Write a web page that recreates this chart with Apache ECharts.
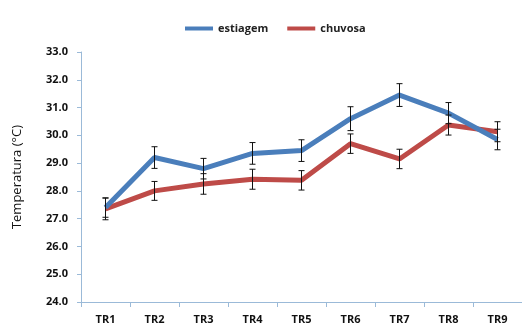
<!DOCTYPE html>
<html><head><meta charset="utf-8">
<script src="https://cdn.jsdelivr.net/npm/echarts@6/dist/echarts.min.js"></script>
<style>html,body{margin:0;padding:0;background:#fff}#c{width:522px;height:325px}</style>
</head><body><div id="c"></div>
<script>
var categories = ['TR1','TR2','TR3','TR4','TR5','TR6','TR7','TR8','TR9'];
var estiagem = [27.4, 29.2, 28.8, 29.35, 29.45, 30.6, 31.45, 30.8, 29.85];
var estiagemErr = [0.35, 0.39, 0.37, 0.39, 0.39, 0.43, 0.41, 0.38, 0.37];
var chuvosa = [27.35, 28.0, 28.25, 28.42, 28.38, 29.7, 29.15, 30.37, 30.13];
var chuvosaErr = [0.39, 0.34, 0.37, 0.36, 0.35, 0.35, 0.35, 0.36, 0.36];
var yTicks = [24, 25, 26, 27, 28, 29, 30, 31, 32, 33];

function errData(vals, errs) {
  return vals.map(function (v, i) { return [i, v - errs[i], v + errs[i]]; });
}
function renderErr(params, api) {
  var i = api.value(0);
  var lo = api.coord([i, api.value(1)]);
  var hi = api.coord([i, api.value(2)]);
  var hw = 3;
  var st = { stroke: '#111', lineWidth: 1 };
  return { type: 'group', children: [
    { type: 'line', shape: { x1: lo[0], y1: lo[1], x2: hi[0], y2: hi[1] }, style: st },
    { type: 'line', shape: { x1: lo[0] - hw, y1: lo[1], x2: lo[0] + hw, y2: lo[1] }, style: st },
    { type: 'line', shape: { x1: hi[0] - hw, y1: hi[1], x2: hi[0] + hw, y2: hi[1] }, style: st }
  ]};
}
var chart = echarts.init(document.getElementById('c'));
chart.setOption({
  animation: false,
  backgroundColor: '#fff',
  legend: {
    top: 18, left: 180, icon: 'rect', itemWidth: 28, itemHeight: 4, itemGap: 19,
    textStyle: { fontFamily: 'Open Sans', fontSize: 11, fontWeight: 'bold', color: '#222' },
    data: ['estiagem', 'chuvosa']
  },
  grid: { left: 81, right: -5, top: 52, bottom: 23 },
  xAxis: {
    type: 'category', data: categories, boundaryGap: true,
    axisLine: { lineStyle: { color: '#9bbad8', width: 1 } },
    axisTick: { show: true, length: 5, lineStyle: { color: '#9bbad8' } },
    axisLabel: { color: '#111', fontFamily: 'Open Sans', fontWeight: 'bold', fontSize: 11, margin: 12 }
  },
  yAxis: {
    type: 'value', min: yTicks[0], max: yTicks[yTicks.length - 1], interval: 1,
    name: 'Temperatura (°C)', nameLocation: 'middle', nameGap: 57, nameRotate: 90,
    nameTextStyle: { color: '#111', fontFamily: 'Open Sans', fontSize: 13 },
    axisLine: { show: true, lineStyle: { color: '#9bbad8', width: 1 } },
    axisTick: { show: true, length: 4, lineStyle: { color: '#9bbad8' } },
    splitLine: { show: false },
    axisLabel: { color: '#111', fontFamily: 'Open Sans', fontWeight: 'bold', fontSize: 11, margin: 13,
      formatter: function (v) { return v.toFixed(1); } }
  },
  series: [
    { name: 'estiagem', type: 'line', data: estiagem, showSymbol: false, symbol: 'none',
      lineStyle: { width: 5, color: '#4a7ebb' }, itemStyle: { color: '#4a7ebb' }, z: 3 },
    { name: 'chuvosa', type: 'line', data: chuvosa, showSymbol: false, symbol: 'none',
      lineStyle: { width: 5, color: '#be4b48' }, itemStyle: { color: '#be4b48' }, z: 2 },
    { type: 'custom', renderItem: renderErr, data: errData(estiagem, estiagemErr), z: 10, encode: { x: 0, y: [1, 2] } },
    { type: 'custom', renderItem: renderErr, data: errData(chuvosa, chuvosaErr), z: 10, encode: { x: 0, y: [1, 2] } }
  ]
});
</script></body></html>
